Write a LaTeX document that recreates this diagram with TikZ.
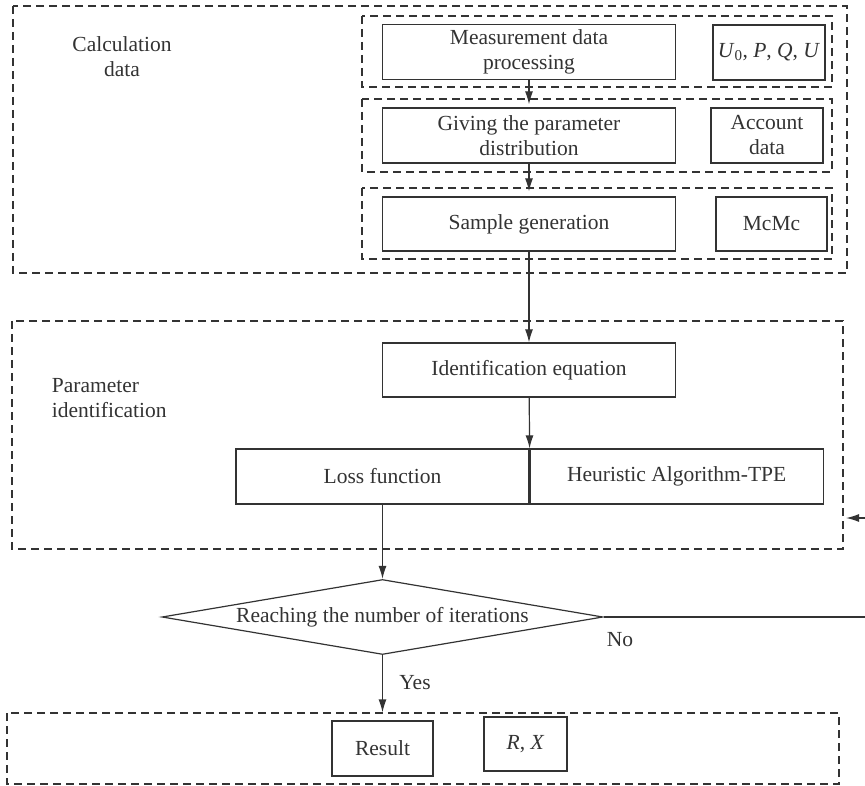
\documentclass[tikz,border=0pt]{standalone}
\usepackage{fontspec}
\setmainfont{Liberation Serif}
\usetikzlibrary{arrows.meta}
\usetikzlibrary{positioning}
\usetikzlibrary{shapes.geometric}
\definecolor{ink}{gray}{0.2}

\begin{document}
\begin{tikzpicture}[x=1pt, y=-1pt, ->, >={Latex[length=13pt,width=8pt]}, line width=1.2pt, draw=ink, text=ink,
  font=\fontsize{21.5}{25}\selectfont]
\tikzset{
  box/.style = {draw=ink, rectangle, minimum width=293pt, minimum height=55pt, align=center, inner sep=2pt},
  tagbox/.style = {draw=ink, rectangle, minimum height=55pt, align=center, inner sep=2pt},
  grp/.style = {-, draw=ink, line width=1.3pt, dash pattern=on 8pt off 5pt},
  check/.style = {draw=ink, diamond, aspect=5.9, inner sep=0pt, minimum width=441pt, minimum height=75pt}
}
\useasboundingbox (0,0) rectangle (865,786);

% calculation data
\draw[grp] (13,6) rectangle (847,273);
\draw[grp] (362,16) rectangle (832,87);
\draw[grp] (362,99) rectangle (832,172);
\draw[grp] (362,188) rectangle (832,259);
\node[align=center] (calc) at (122,57) {Calculation\\data};

\node[box] (meas) at (529,52) {Measurement data\\processing};
\node[tagbox, minimum width=112pt] (uvals) at (769,52.5) {\textit{U}\textsubscript{0}, \textit{P}, \textit{Q}, \textit{U}};
\node[box] (giving) at (529,135.5) {Giving the parameter\\distribution};
\node[tagbox, minimum width=112pt] (account) at (767,135.5) {Account\\data};
\node[box, minimum height=54pt] (sample) at (529,224) {Sample generation};
\node[tagbox, minimum width=111pt, minimum height=54pt] (mcmc) at (771.5,224) {McMc};

% parameter identification
\draw[grp] (12,321) rectangle (843,549);
\node[align=left, anchor=west] (param) at (48,398) {Parameter\\identification};
\node[box, minimum height=54pt] (ident) at (529,370) {Identification equation};
\node[box] (loss) at (382.5,476.5) {Loss function};
\node[box, right=0pt of loss] (heur) {Heuristic Algorithm-TPE};

% iterations and result
\node[check] (iter) at (382.5,617) {Reaching the number of iterations};
\coordinate (loopR) at (865,617);
\coordinate (loopIn) at (865,518);
\coordinate (loopTip) at (846,518);
\node (no) at (620,640) {No};
\node (yes) at (415,683) {Yes};

\draw[grp] (7,713) rectangle (839,784);
\node[tagbox, minimum width=101pt] (result) at (382.5,748.5) {Result};
\node[tagbox, minimum width=83pt, minimum height=54pt] (rx) at (525.5,744) {\textit{R}, \textit{X}};

\draw[shorten >=3pt] (meas) -- (giving);
\draw[shorten >=5pt] (giving) -- (sample);
\draw (sample) -- (ident);
\draw (ident) -- (loss.north east);
\draw (loss) -- (iter);
\draw[shorten >=8pt] (iter) -- (result);
\draw[-] (iter.east) -- (loopR);
\draw (loopIn) -- (loopTip);

\end{tikzpicture}
\end{document}
